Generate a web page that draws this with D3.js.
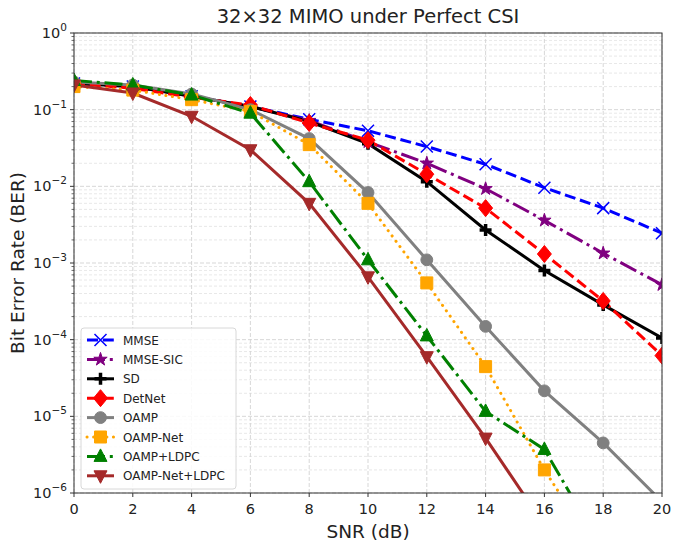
<!DOCTYPE html>
<html>
<head>
<meta charset="utf-8">
<script src="https://cdn.jsdelivr.net/npm/d3@7"></script>
<style>
  body { margin: 0; background: #fff; }
  svg text { font-family: "DejaVu Sans", sans-serif; fill: #222; }
</style>
</head>
<body>
<svg id="chart" width="673" height="545"></svg>
<script>
// SNR values (dB)
var snr = [0, 2, 4, 6, 8, 10, 12, 14, 16, 18, 20];

// BER, one array per method
var mmse      = [0.22, 0.20, 0.15, 0.11, 0.075, 0.053, 0.033, 0.0194, 0.0096, 0.0052, 0.00245];
var mmseSic   = [0.22, 0.20, 0.15, 0.11, 0.072, 0.038, 0.020, 0.0093, 0.0036, 0.00134, 0.00052];
var sd        = [0.22, 0.20, 0.15, 0.11, 0.070, 0.036, 0.0115, 0.0027, 0.00080, 0.000284, 0.000105];
var detnet    = [0.22, 0.19, 0.145, 0.115, 0.067, 0.040, 0.0144, 0.0052, 0.00131, 0.00032, 0.000062];
var oamp      = [0.23, 0.21, 0.16, 0.10, 0.042, 0.0083, 0.0011, 0.000149, 0.0000215, 0.0000045, 0.00000077];
var oampNet   = [0.20, 0.18, 0.135, 0.095, 0.035, 0.006, 0.00055, 0.0000445, 0.0000020, 0.00000013];
var oampLdpc  = [0.24, 0.21, 0.155, 0.09, 0.0115, 0.0011, 0.000112, 0.0000116, 0.0000037, 0.00000018];
var netLdpc   = [0.21, 0.165, 0.082, 0.030, 0.006, 0.00066, 0.00006, 0.0000052, 0.00000038];

var names = ["MMSE", "MMSE-SIC", "SD", "DetNet", "OAMP", "OAMP-Net", "OAMP+LDPC", "OAMP-Net+LDPC"];
var xTicks = [0, 2, 4, 6, 8, 10, 12, 14, 16, 18, 20];
var yTicks = [-6, -5, -4, -3, -2, -1, 0];

var series = [
  {name: names[0], values: mmse,     color: "blue",    dash: "11,4.8",        marker: "x"},
  {name: names[1], values: mmseSic,  color: "purple",  dash: "18,4.8,3,4.8",  marker: "star"},
  {name: names[2], values: sd,       color: "black",   dash: null,            marker: "plus"},
  {name: names[3], values: detnet,   color: "red",     dash: "11,4.8",        marker: "diamond"},
  {name: names[4], values: oamp,     color: "gray",    dash: null,            marker: "circle"},
  {name: names[5], values: oampNet,  color: "orange",  dash: "0.1,6.5",       marker: "square", round: true},
  {name: names[6], values: oampLdpc, color: "green",   dash: "18,4.8,3,4.8",  marker: "triangle"},
  {name: names[7], values: netLdpc,  color: "brown",   dash: null,            marker: "triangleDown"}
];

var svg = d3.select("#chart");
var margin = {left: 74, right: 11, top: 33, bottom: 52};
var W = 673, H = 545;

var x = d3.scaleLinear().domain([0, 20]).range([margin.left, W - margin.right]);
var y = d3.scaleLog().domain([1e-6, 1]).range([H - margin.bottom, margin.top]);

svg.append("defs").append("clipPath").attr("id", "clip")
  .append("rect")
    .attr("x", x(0)).attr("y", y(1))
    .attr("width", x(20) - x(0)).attr("height", y(1e-6) - y(1));

// minor y positions
var minorY = [];
for (var e = -6; e < 0; e++) {
  for (var k = 2; k <= 9; k++) minorY.push(k * Math.pow(10, e));
}

var grid = svg.append("g");
grid.selectAll(".minor").data(minorY).enter().append("line")
    .attr("x1", x(0)).attr("x2", x(20))
    .attr("y1", d => y(d)).attr("y2", d => y(d))
    .attr("stroke", "#e2e2e2").attr("stroke-width", 0.8)
    .attr("stroke-dasharray", "3,2");
grid.selectAll(".majY").data(yTicks).enter().append("line")
    .attr("x1", x(0)).attr("x2", x(20))
    .attr("y1", d => y(Math.pow(10, d))).attr("y2", d => y(Math.pow(10, d)))
    .attr("stroke", "#d2d2d2").attr("stroke-width", 0.9)
    .attr("stroke-dasharray", "4,2");
grid.selectAll(".majX").data(xTicks).enter().append("line")
    .attr("x1", d => x(d)).attr("x2", d => x(d))
    .attr("y1", y(1)).attr("y2", y(1e-6))
    .attr("stroke", "#d2d2d2").attr("stroke-width", 0.9)
    .attr("stroke-dasharray", "4,2");

// markers
function markerPath(type) {
  switch (type) {
    case "x": return "M-6,-6L6,6M-6,6L6,-6";
    case "plus": return "M-6,0L6,0M0,-6L0,6";
    case "star": return d3.symbol(d3.symbolStar, 55)();
    case "diamond": return "M0,-8.5L7,0L0,8.5L-7,0Z";
    case "circle": return d3.symbol(d3.symbolCircle, 110)();
    case "square": return "M-6,-6H6V6H-6Z";
    case "triangle": return "M0,-7.5L6.5,5L-6.5,5Z";
    case "triangleDown": return "M0,7.5L6.5,-5L-6.5,-5Z";
  }
}

function drawMarker(g, type, color) {
  var p = g.append("path").attr("d", markerPath(type));
  if (type === "x" || type === "plus") {
    p.attr("fill", "none").attr("stroke", color)
     .attr("stroke-width", type === "plus" ? 3.5 : 1.5);
  } else {
    p.attr("fill", color).attr("stroke", color).attr("stroke-width", 1);
  }
}

var line = d3.line()
  .x(function(d, i) { return x(snr[i]); })
  .y(function(d) { return y(d); });

var plot = svg.append("g").attr("clip-path", "url(#clip)");

series.forEach(function(s) {
  plot.append("path")
    .datum(s.values)
    .attr("d", line)
    .attr("fill", "none")
    .attr("stroke", s.color)
    .attr("stroke-width", 3)
    .attr("stroke-linecap", s.round ? "round" : "butt")
    .attr("stroke-dasharray", s.dash);
});

series.forEach(function(s) {
  s.values.forEach(function(v, i) {
    if (v < 1e-6) return;
    var g = plot.append("g").attr("transform", "translate(" + x(snr[i]) + "," + y(v) + ")");
    drawMarker(g, s.marker, s.color);
  });
});

// frame
svg.append("rect")
  .attr("x", x(0)).attr("y", y(1))
  .attr("width", x(20) - x(0)).attr("height", y(1e-6) - y(1))
  .attr("fill", "none").attr("stroke", "#333").attr("stroke-width", 1);

// x axis ticks
var xa = svg.append("g");
xa.selectAll("line").data(xTicks).enter().append("line")
  .attr("x1", d => x(d)).attr("x2", d => x(d))
  .attr("y1", y(1e-6)).attr("y2", y(1e-6) + 4)
  .attr("stroke", "#333");
xa.selectAll("text").data(xTicks).enter().append("text")
  .attr("x", d => x(d)).attr("y", y(1e-6) + 21)
  .attr("text-anchor", "middle").attr("font-size", 14.5)
  .text(d => d);

// y axis ticks
var ya = svg.append("g");
ya.selectAll(".mt").data(minorY).enter().append("line")
  .attr("x1", x(0) - 2.5).attr("x2", x(0))
  .attr("y1", d => y(d)).attr("y2", d => y(d))
  .attr("stroke", "#333").attr("stroke-width", 0.7);
ya.selectAll(".Mt").data(yTicks).enter().append("line")
  .attr("x1", x(0) - 4).attr("x2", x(0))
  .attr("y1", d => y(Math.pow(10, d))).attr("y2", d => y(Math.pow(10, d)))
  .attr("stroke", "#333");
var yl = ya.selectAll(".lab").data(yTicks).enter().append("text")
  .attr("x", x(0) - 7).attr("y", d => y(Math.pow(10, d)) + 5)
  .attr("text-anchor", "end").attr("font-size", 14.5);
yl.append("tspan").text("10");
yl.append("tspan").attr("dy", -7).attr("font-size", 10.5)
  .text(d => d === 0 ? "0" : "\u2212" + (-d));

// titles
svg.append("text").attr("x", (x(0) + x(20)) / 2).attr("y", 23)
  .attr("text-anchor", "middle").attr("font-size", 19.5)
  .text("32\u00d732 MIMO under Perfect CSI");
svg.append("text").attr("x", (x(0) + x(20)) / 2).attr("y", 538)
  .attr("text-anchor", "middle").attr("font-size", 18.5)
  .text("SNR (dB)");
svg.append("text")
  .attr("transform", "translate(24," + ((y(1) + y(1e-6)) / 2) + ") rotate(-90)")
  .attr("text-anchor", "middle").attr("font-size", 18.5)
  .text("Bit Error Rate (BER)");

// legend
var lg = svg.append("g").attr("transform", "translate(81,328)");
lg.append("rect").attr("width", 155).attr("height", 161).attr("rx", 3)
  .attr("fill", "rgba(255,255,255,0.85)").attr("stroke", "#d8d8d8");
series.forEach(function(s, i) {
  var row = lg.append("g").attr("transform", "translate(0," + (12 + i * 19.4) + ")");
  row.append("line").attr("x1", 6).attr("x2", 33)
    .attr("stroke", s.color).attr("stroke-width", 3)
    .attr("stroke-linecap", s.round ? "round" : "butt")
    .attr("stroke-dasharray", s.dash);
  drawMarker(row.append("g").attr("transform", "translate(19.5,0)"), s.marker, s.color);
  row.append("text").attr("x", 42).attr("y", 4.5).attr("font-size", 12).text(s.name);
});
</script>
</body>
</html>
